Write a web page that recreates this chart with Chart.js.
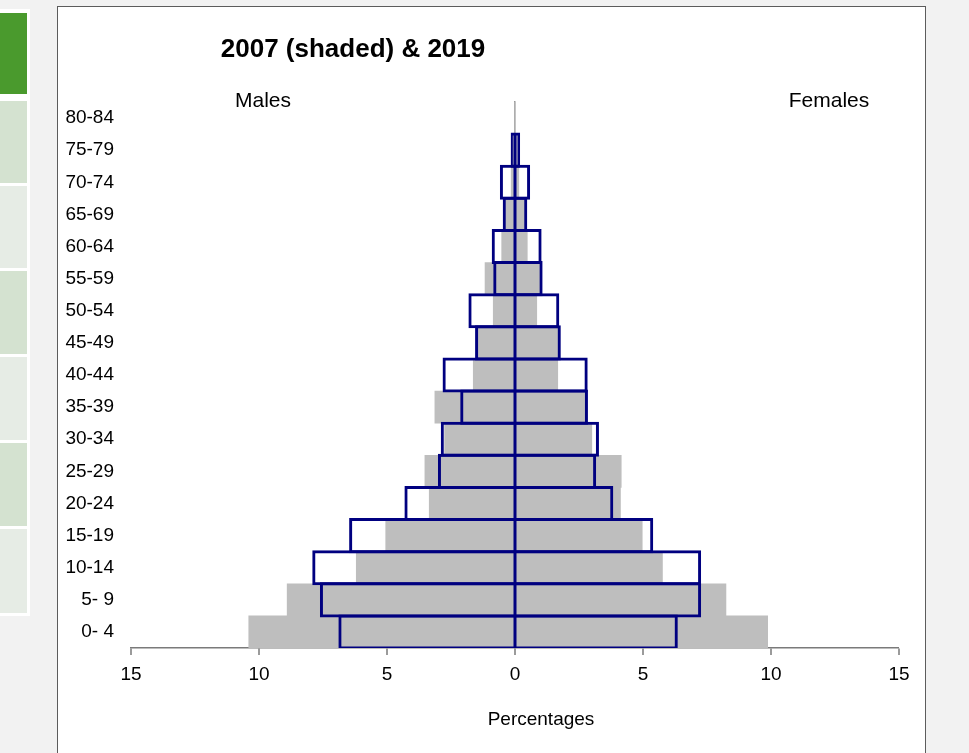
<!DOCTYPE html>
<html>
<head>
<meta charset="utf-8">
<title>2007 (shaded) &amp; 2019</title>
<script src="https://cdn.jsdelivr.net/npm/chart.js@4.4.1/dist/chart.umd.min.js"></script>
<style>
  html, body { margin: 0; padding: 0; }
  body {
    width: 969px; height: 753px; position: relative; overflow: hidden;
    background: #f2f2f2;
    font-family: 'Liberation Sans', Arial, sans-serif;
  }
  .side { position: absolute; left: 0; top: 9px; width: 30px; height: 607px; background: #fff; }
  .tab { position: absolute; left: 0; width: 27px; }
  .tab.dark { background: #4a9a2d; }
  .tab.mid { background: #d4e2d0; }
  .tab.light { background: #e6ece5; }
  .panel {
    position: absolute; left: 57px; top: 6px; width: 869px; height: 770px;
    background: #fff; border: 1px solid #5c5c5c; box-sizing: border-box;
  }
  #popChart { position: absolute; left: 0; top: 0; }
</style>
</head>
<body>
<div class="side">
  <div class="tab dark" style="top:4px;height:81px"></div>
  <div class="tab mid" style="top:92px;height:82px"></div>
  <div class="tab light" style="top:177px;height:82px"></div>
  <div class="tab mid" style="top:262px;height:83px"></div>
  <div class="tab light" style="top:348px;height:83px"></div>
  <div class="tab mid" style="top:434px;height:83px"></div>
  <div class="tab light" style="top:520px;height:84px"></div>
</div>
<div class="panel"></div>
<canvas id="popChart" width="969" height="753"></canvas>

<script>
// Grupos de idade (de baixo para cima)
const ageGroups = ['0- 4', '5- 9', '10-14', '15-19', '20-24', '25-29', '30-34', '35-39',
    '40-44', '45-49', '50-54', '55-59', '60-64', '65-69', '70-74', '75-79', '80-84'];

// Percentagens 2007 (sombreado)
const males2007 = [10.4, 8.9, 6.2, 5.05, 3.35, 3.52, 2.75, 3.13, 1.63, 1.5, 0.85, 1.17, 0.52, 0.45, 0.15, 0.1, 0];
const females2007 = [9.87, 8.24, 5.76, 4.97, 4.12, 4.15, 3.0, 2.75, 1.67, 1.7, 0.85, 1.0, 0.48, 0.45, 0.15, 0.1, 0];

// Percentagens 2019 (contorno)
const males2019 = [6.9, 7.62, 7.92, 6.48, 4.32, 3.01, 2.9, 2.14, 2.83, 1.56, 1.82, 0.85, 0.91, 0.48, 0.59, 0.17, 0];
const females2019 = [6.36, 7.27, 7.27, 5.4, 3.84, 3.17, 3.28, 2.85, 2.84, 1.79, 1.73, 1.08, 1.04, 0.48, 0.59, 0.2, 0];

// Eixo x
const xTickValues = [-15, -10, -5, 0, 5, 10, 15];

const titleText = '2007 (shaded) & 2019';
const leftLabel = 'Males';
const rightLabel = 'Females';
const xAxisLabel = 'Percentages';

const fontFamily = "'Liberation Sans', Arial, sans-serif";
const shadeColor = '#bebebe';
const outlineColor = '#000080';
const axisColor = '#7a7a7a';

Chart.defaults.font.family = fontFamily;
Chart.defaults.color = '#000';

// textos fora dos eixos (titulo, Males/Females, Percentages)
const chartText = {
    id: 'chartText',
    afterDraw(chart) {
        const ctx = chart.ctx;
        ctx.save();
        ctx.fillStyle = '#000';
        ctx.textAlign = 'center';
        ctx.textBaseline = 'alphabetic';
        ctx.font = `bold 26px ${fontFamily}`;
        ctx.fillText(titleText, 353, 57);
        ctx.font = `21px ${fontFamily}`;
        ctx.fillText(leftLabel, 263, 107);
        ctx.fillText(rightLabel, 829, 107);
        ctx.font = `19px ${fontFamily}`;
        ctx.fillText(xAxisLabel, 541, 725);
        ctx.restore();
    }
};

// barras de 2019 passam 1.5px da faixa para a borda ficar centrada na divisa
const bandPx = 546 / ageGroups.length;
const outlinePct = 1 + 3 / bandPx;

const ctx = document.getElementById('popChart').getContext('2d');
new Chart(ctx, {
    type: 'bar',
    data: {
        labels: ageGroups,
        datasets: [
            {
                label: 'Males 2007',
                data: males2007.map(v => -v),
                backgroundColor: shadeColor,
                borderWidth: 0,
                order: 2
            },
            {
                label: 'Females 2007',
                data: females2007,
                backgroundColor: shadeColor,
                borderWidth: 0,
                order: 2
            },
            {
                label: 'Males 2019',
                data: males2019.map(v => -v),
                backgroundColor: 'rgba(0,0,0,0)',
                borderColor: outlineColor,
                borderWidth: { top: 3, bottom: 3, left: 3, right: 1.5 },
                borderSkipped: false,
                barPercentage: outlinePct,
                order: 1
            },
            {
                label: 'Females 2019',
                data: females2019,
                backgroundColor: 'rgba(0,0,0,0)',
                borderColor: outlineColor,
                borderWidth: { top: 3, bottom: 3, left: 1.5, right: 3 },
                borderSkipped: false,
                barPercentage: outlinePct,
                order: 1
            }
        ]
    },
    options: {
        indexAxis: 'y',
        responsive: false,
        animation: false,
        datasets: {
            bar: { grouped: false, categoryPercentage: 1, barPercentage: 1 }
        },
        layout: { padding: { left: 65, right: 70, top: 102, bottom: 65 } },
        plugins: {
            legend: { display: false },
            tooltip: { enabled: false },
            title: { display: false }
        },
        scales: {
            x: {
                type: 'linear',
                min: -15,
                max: 15,
                afterBuildTicks: scale => {
                    scale.ticks = xTickValues.map(v => ({ value: v }));
                },
                afterFit: scale => { scale.height = 40; },
                ticks: {
                    padding: 8,
                    maxRotation: 0,
                    autoSkip: false,
                    font: { size: 19 },
                    callback: v => Math.abs(v)
                },
                grid: {
                    drawOnChartArea: false,
                    drawTicks: true,
                    tickLength: 7,
                    lineWidth: 0,
                    tickWidth: 1.5,
                    tickColor: axisColor
                },
                border: { display: true, color: axisColor, width: 1.5 }
            },
            y: {
                type: 'category',
                reverse: true,
                afterFit: scale => { scale.width = 66; },
                ticks: { padding: 17, font: { size: 19 } },
                grid: { display: false, drawTicks: false },
                border: { display: false }
            },
            // linha vertical cinza no zero
            yZero: {
                type: 'category',
                position: { x: 0 },
                reverse: true,
                ticks: { display: false },
                grid: { display: false, drawTicks: false },
                border: { display: true, color: '#999999', width: 1.5 }
            }
        }
    },
    plugins: [chartText]
});
</script>
</body>
</html>
